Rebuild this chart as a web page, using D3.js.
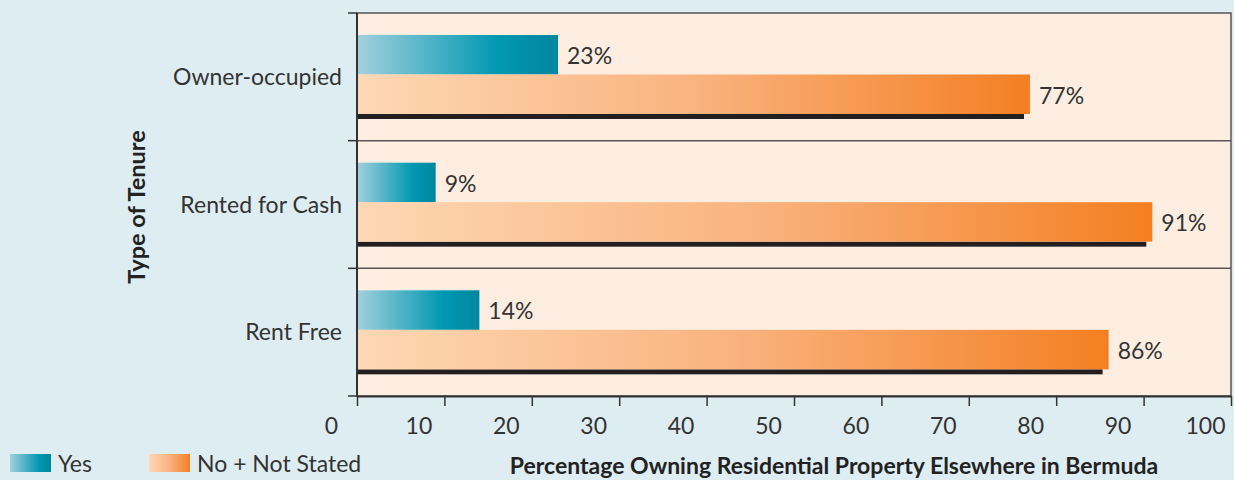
<!DOCTYPE html>
<html>
<head>
<meta charset="utf-8">
<script src="https://cdn.jsdelivr.net/npm/d3@7"></script>
<style>
  body { margin: 0; background: #deedf2; }
  svg { display: block; font-family: "Lato", "Open Sans", sans-serif; }
</style>
</head>
<body>
<div id="chart"></div>
<script>
// Data
const categories = ["Owner-occupied", "Rented for Cash", "Rent Free"];
const seriesNames = ["Yes", "No + Not Stated"];
const yesValues = [23, 9, 14];
const noValues = [77, 91, 86];
const xTicks = [0, 10, 20, 30, 40, 50, 60, 70, 80, 90, 100];

const W = 1234, H = 480;
const margin = { top: 13, right: 3, bottom: 84, left: 357 };
const width = W - margin.left - margin.right;
const height = H - margin.top - margin.bottom;
const fs = "23px";

const svg = d3.select("#chart").append("svg")
    .attr("width", W)
    .attr("height", H);

// gradients
const defs = svg.append("defs");
const gYes = defs.append("linearGradient").attr("id", "gYes");
gYes.append("stop").attr("offset", "0%").attr("stop-color", "#a2d0dd");
gYes.append("stop").attr("offset", "70%").attr("stop-color", "#0298b2");
gYes.append("stop").attr("offset", "100%").attr("stop-color", "#00879f");
const gNo = defs.append("linearGradient").attr("id", "gNo");
gNo.append("stop").attr("offset", "0%").attr("stop-color", "#fdd8b4");
gNo.append("stop").attr("offset", "50%").attr("stop-color", "#f9b37f");
gNo.append("stop").attr("offset", "100%").attr("stop-color", "#f47f22");
const fills = ["url(#gYes)", "url(#gNo)"];

svg.append("rect").attr("width", W).attr("height", H).attr("fill", "#deedf2");

const g = svg.append("g")
    .attr("transform", `translate(${margin.left},${margin.top})`);

// scales
const x = d3.scaleLinear().domain([0, 100]).range([0, width]);
const y = d3.scaleBand().domain(categories).range([0, height]);
const ySub = d3.scaleBand().domain(seriesNames).range([22, 101]);

// plot background
g.append("rect")
    .attr("width", width)
    .attr("height", height)
    .attr("fill", "#feeee2")
    .attr("stroke", "#555")
    .attr("stroke-width", 1.5);

// band separators
g.selectAll(".sep")
    .data(categories.slice(1))
    .join("line")
    .attr("x1", 0).attr("x2", width)
    .attr("y1", d => y(d)).attr("y2", d => y(d))
    .attr("stroke", "#5a5555")
    .attr("stroke-width", 1.5);

// bars
const rows = categories.map((c, i) => ({ cat: c, vals: [yesValues[i], noValues[i]] }));

const grp = g.selectAll(".row")
    .data(rows)
    .join("g")
    .attr("transform", d => `translate(0,${y(d.cat)})`);

// shadow under the orange bar
grp.append("rect")
    .attr("x", 0)
    .attr("y", ySub(seriesNames[1]) + ySub.bandwidth())
    .attr("width", d => x(d.vals[1]) - 6)
    .attr("height", 5)
    .attr("fill", "#231f20");

grp.selectAll(".bar")
    .data(d => d.vals.map((v, j) => ({ v, j })))
    .join("rect")
    .attr("x", 0)
    .attr("y", d => ySub(seriesNames[d.j]))
    .attr("width", d => x(d.v))
    .attr("height", ySub.bandwidth())
    .attr("fill", d => fills[d.j]);

grp.selectAll(".lbl")
    .data(d => d.vals.map((v, j) => ({ v, j })))
    .join("text")
    .attr("x", d => x(d.v) + 9)
    .attr("y", d => ySub(seriesNames[d.j]) + ySub.bandwidth() / 2 + 1)
    .attr("dy", "0.36em")
    .style("font-size", fs)
    .style("fill", "#333")
    .text(d => d.v + "%");

// left axis
g.append("line")
    .attr("x1", 0).attr("x2", 0).attr("y1", 0).attr("y2", height)
    .attr("stroke", "#333").attr("stroke-width", 2);
g.selectAll(".ytick")
    .data(y.domain().map(d => y(d)).concat([height]))
    .join("line")
    .attr("x1", -9).attr("x2", 0)
    .attr("y1", d => d).attr("y2", d => d)
    .attr("stroke", "#333").attr("stroke-width", 1.5);

g.selectAll(".ylab")
    .data(categories)
    .join("text")
    .attr("x", -15)
    .attr("y", d => y(d) + y.bandwidth() / 2)
    .attr("dy", "0.36em")
    .attr("text-anchor", "end")
    .style("font-size", fs)
    .style("fill", "#333")
    .text(d => d);

// bottom axis
const xAxis = g.append("g")
    .attr("transform", `translate(0,${height})`)
    .call(d3.axisBottom(x).tickValues(xTicks).tickSize(10).tickSizeOuter(0));
xAxis.select(".domain").attr("stroke", "#333").attr("stroke-width", 2);
xAxis.selectAll(".tick line").attr("stroke", "#333").attr("stroke-width", 1.5);
xAxis.selectAll(".tick text")
    .attr("x", -26)
    .attr("y", 22)
    .style("font-size", fs)
    .style("font-family", "Lato, sans-serif")
    .style("fill", "#333");

// axis titles
svg.append("text")
    .attr("transform", `translate(145,207) rotate(-90)`)
    .attr("text-anchor", "middle")
    .style("font-size", "23.5px")
    .style("font-weight", "bold")
    .style("fill", "#222")
    .text("Type of Tenure");

svg.append("text")
    .attr("x", 834)
    .attr("y", 474)
    .attr("text-anchor", "middle")
    .style("font-size", "23px")
    .style("font-weight", "bold")
    .style("fill", "#222")
    .text("Percentage Owning Residential Property Elsewhere in Bermuda");

// legend
const legX = [10, 149];
const legend = svg.selectAll(".leg")
    .data(seriesNames)
    .join("g")
    .attr("transform", (d, i) => `translate(${legX[i]},454)`);
legend.append("rect")
    .attr("width", 41).attr("height", 18)
    .attr("fill", (d, i) => fills[i]);
legend.append("text")
    .attr("x", 48).attr("y", 18)
    .style("font-size", fs)
    .style("fill", "#333")
    .text(d => d);
</script>
</body>
</html>
